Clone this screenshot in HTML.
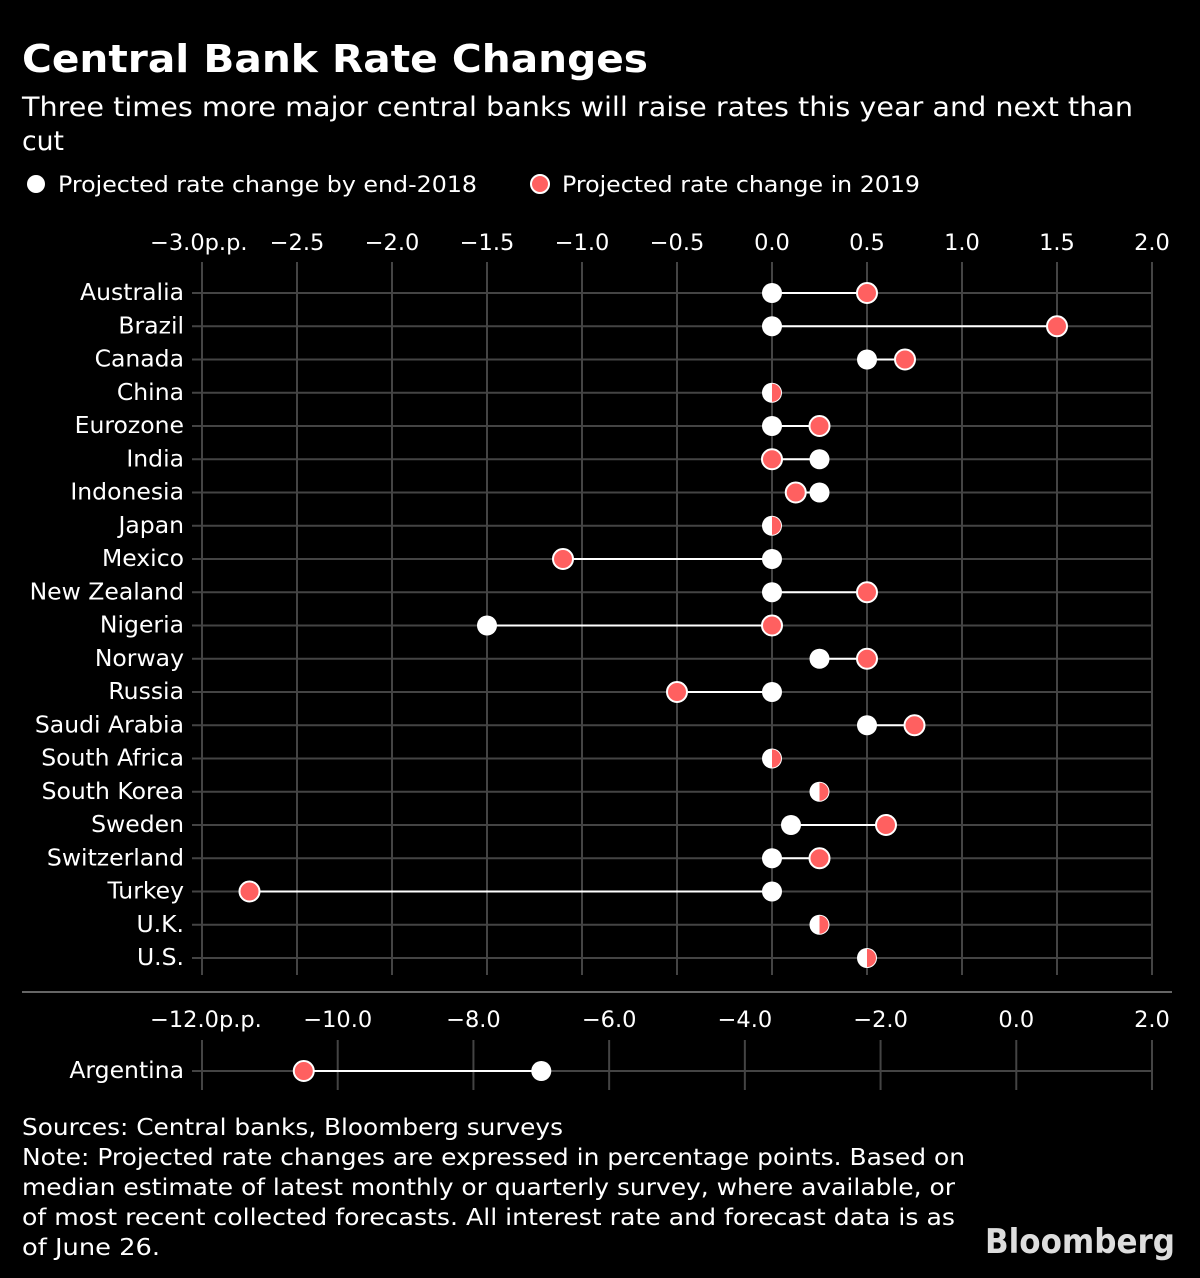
<!DOCTYPE html>
<html><head><meta charset="utf-8"><style>
body{margin:0;background:#000;width:1200px;height:1274px;overflow:hidden;font-family:"DejaVu Sans",sans-serif;color:#fff}
svg text{font-family:"DejaVu Sans","Liberation Sans",sans-serif;fill:#fff}
</style></head><body>
<svg width="1200" height="1274">
<text x="22" y="72" font-size="38" font-weight="bold" textLength="626" lengthAdjust="spacingAndGlyphs">Central Bank Rate Changes</text>
<text x="22" y="116" font-size="27" textLength="1111" lengthAdjust="spacingAndGlyphs">Three times more major central banks will raise rates this year and next than</text>
<text x="22" y="150" font-size="27" textLength="42" lengthAdjust="spacingAndGlyphs">cut</text>
<g>
<circle cx="36" cy="184" r="9" fill="#fff"/>
<text x="58" y="192" font-size="22" textLength="419" lengthAdjust="spacingAndGlyphs">Projected rate change by end-2018</text>
<circle cx="540" cy="184" r="9" fill="#ff6060" stroke="#fff" stroke-width="2"/>
<text x="562" y="192" font-size="22" textLength="358" lengthAdjust="spacingAndGlyphs">Projected rate change in 2019</text>
</g>
<g id="top"></g>
<line x1="22" y1="992" x2="1172" y2="992" stroke="#666" stroke-width="2"/>
<g id="bot"></g>
<text x="22" y="1135" font-size="23" textLength="541" lengthAdjust="spacingAndGlyphs">Sources: Central banks, Bloomberg surveys</text>
<text x="22" y="1165" font-size="23" textLength="943" lengthAdjust="spacingAndGlyphs">Note: Projected rate changes are expressed in percentage points. Based on</text>
<text x="22" y="1195" font-size="23" textLength="933" lengthAdjust="spacingAndGlyphs">median estimate of latest monthly or quarterly survey, where available, or</text>
<text x="22" y="1225" font-size="23" textLength="933" lengthAdjust="spacingAndGlyphs">of most recent collected forecasts. All interest rate and forecast data is as</text>
<text x="22" y="1255" font-size="23" textLength="138" lengthAdjust="spacingAndGlyphs">of June 26.</text>
<text x="1175" y="1253" font-size="34" font-weight="bold" text-anchor="end" textLength="190" lengthAdjust="spacingAndGlyphs" style="fill:#ddd">Bloomberg</text>
</svg>
<script>
const countries=["Australia","Brazil","Canada","China","Eurozone","India","Indonesia","Japan","Mexico","New Zealand","Nigeria","Norway","Russia","Saudi Arabia","South Africa","South Korea","Sweden","Switzerland","Turkey","U.K.","U.S."];
const end2018=[0,0,0.5,0,0,0.25,0.25,0,0,0,-1.5,0.25,0,0.5,0,0.25,0.1,0,0,0.25,0.5];
const in2019=[0.5,1.5,0.7,0,0.25,0,0.125,0,-1.1,0.5,0,0.5,-0.5,0.75,0,0.25,0.6,0.25,-2.75,0.25,0.5];
const topTicks=[-3,-2.5,-2,-1.5,-1,-0.5,0,0.5,1,1.5,2];
const botCountries=["Argentina"];
const botEnd2018=[-7];
const botIn2019=[-10.5];
const botTicks=[-12,-10,-8,-6,-4,-2,0,2];
const NS="http://www.w3.org/2000/svg";
const RED="#ff6060";
function mk(p,t,a){const e=document.createElementNS(NS,t);for(const k in a)e.setAttribute(k,a[k]);p.appendChild(e);return e;}
function fmt(v){return (v<0?"\u2212":"")+Math.abs(v).toFixed(1);}
function panel(g,cats,a,b,ticks,xmin,xmax,tickY,y0,step,gTop,gBot){
 const X=v=>202+(v-xmin)/(xmax-xmin)*950;
 ticks.forEach((t,i)=>{
  const l=mk(g,"line",{x1:X(t),x2:X(t),y1:gTop,y2:gBot,stroke:"#444","stroke-width":2});
  
  
  const tx=mk(g,"text",{x:X(t),y:tickY,"font-size":22.5,"text-anchor":"middle"});
  tx.textContent=fmt(t)+(i==0?"p.p.":"");
  if(i==0){tx.setAttribute("x",X(t)-52);tx.setAttribute("text-anchor","start");}
  
  
 });
 cats.forEach((c,i)=>{
  const y=y0+i*step;
  const hl=mk(g,"line",{x1:192,x2:1152,y1:y,y2:y,stroke:"#444","stroke-width":2});
  
  
  const lb=mk(g,"text",{x:184,y:y+7,"font-size":23.5,"text-anchor":"end"});
  lb.textContent=c;
  
  
  const x1=X(a[i]),x2=X(b[i]);
  const cn=mk(g,"line",{x1:x1,x2:x2,y1:y,y2:y,stroke:"#fff","stroke-width":2});
  
  
  if(a[i]===b[i]){
   const w=mk(g,"circle",{cx:x1,cy:y,r:10,fill:"#fff"});
   
   
   const h=mk(g,"path",{d:`M${x1} ${y-9}A9 9 0 0 1 ${x1} ${y+9}Z`,fill:RED});
   
   
  }else{
   const r=mk(g,"circle",{cx:x2,cy:y,r:10,fill:RED,stroke:"#fff","stroke-width":2});
   
   
   const w=mk(g,"circle",{cx:x1,cy:y,r:10,fill:"#fff"});
   
   
  }
 });
}
panel(document.getElementById("top"),countries,end2018,in2019,topTicks,-3,2,250,293,33.25,262,975);
panel(document.getElementById("bot"),botCountries,botEnd2018,botIn2019,botTicks,-12,2,1027,1071,0,1040,1090);
</script>
</body></html>
